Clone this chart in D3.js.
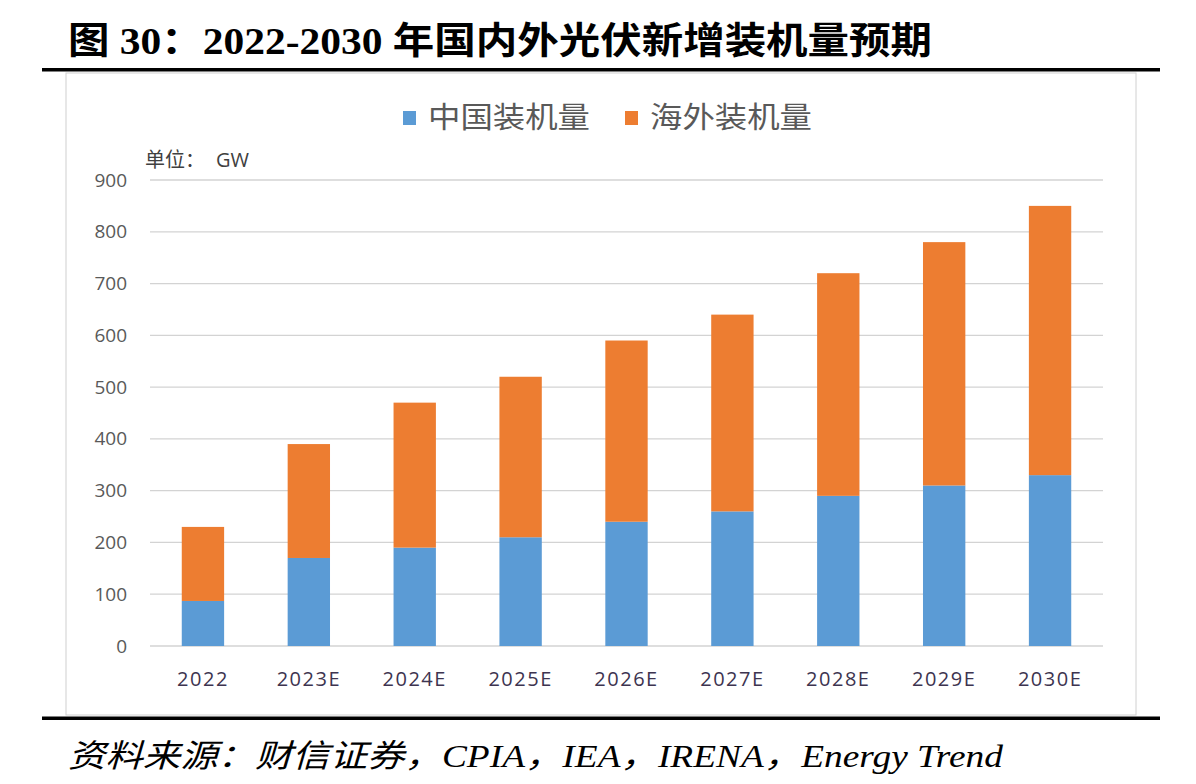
<!DOCTYPE html>
<html><head><meta charset="utf-8">
<script src="https://cdn.jsdelivr.net/npm/d3@7"></script>
<style>html,body{margin:0;padding:0;background:#fff;}svg{display:block;}</style>
</head><body>
<svg id="c" width="1196" height="784"></svg>
<script>
const categories = ["2022","2023E","2024E","2025E","2026E","2027E","2028E","2029E","2030E"];
const chinaValues = [87, 170, 190, 210, 240, 260, 290, 310, 330];
const overseasValues = [143, 220, 280, 310, 350, 380, 430, 470, 520];
const seriesNames = ["中国装机量", "海外装机量"];
const seriesColors = ["#5b9bd5", "#ed7d31"];
const yTicks = [0,100,200,300,400,500,600,700,800,900];
const titleText = "图 30：2022-2030 年国内外光伏新增装机量预期";
const unitLabel = "单位：";
const unitName = "GW";
const sourceText = "资料来源：财信证券，CPIA，IEA，IRENA，Energy Trend";

const svg = d3.select("#c");

// header / frame
svg.append("text").attr("x",68).attr("y",54)
  .attr("font-family","'Liberation Serif','Noto Sans CJK SC',serif")
  .attr("font-weight","bold").attr("font-size",37).attr("fill","#000")
  .attr("textLength",864).attr("lengthAdjust","spacingAndGlyphs")
  .text(titleText);
svg.append("rect").attr("x",42).attr("y",68).attr("width",1118).attr("height",3.5).attr("fill","#000");
svg.append("rect").attr("x",66).attr("y",73).attr("width",1070).attr("height",642)
  .attr("fill","#fff").attr("stroke","#d0d0d0").attr("stroke-width",1);
svg.append("rect").attr("x",42).attr("y",716.5).attr("width",1118).attr("height",3.5).attr("fill","#000");
svg.append("text").attr("x",68).attr("y",767)
  .attr("font-family","'Liberation Serif','Noto Sans CJK SC',serif")
  .attr("font-style","italic").attr("font-size",32).attr("fill","#000")
  .attr("textLength",935).attr("lengthAdjust","spacingAndGlyphs")
  .text(sourceText);

// scales
const x = d3.scaleBand().domain(categories).range([150,1103]).paddingInner(0.6).paddingOuter(0.3);
const y = d3.scaleLinear().domain([0,900]).range([646,180]);

// grid
const g = svg.append("g");
g.selectAll("line.grid").data(yTicks).join("line")
  .attr("x1",150).attr("x2",1103)
  .attr("y1",d=>y(d)).attr("y2",d=>y(d))
  .attr("stroke","#d3d3d3").attr("stroke-width",1.3);

// y axis labels
const yAxis = d3.axisLeft(y).tickValues(yTicks).tickSize(0).tickPadding(0);
const ya = svg.append("g").attr("transform","translate(127,0)").call(yAxis);
ya.select(".domain").remove();
ya.selectAll("text").attr("font-family","'Open Sans','Noto Sans CJK SC',sans-serif")
  .attr("font-size",19).attr("fill","#595959");

// x axis labels
const xAxis = d3.axisBottom(x).tickSize(0).tickPadding(0);
const xa = svg.append("g").attr("transform","translate(0,672)").call(xAxis);
xa.select(".domain").remove();
xa.selectAll("text").attr("font-family","'Open Sans','Noto Sans CJK SC',sans-serif")
  .attr("font-size",20).attr("letter-spacing",1.5).attr("fill","#3d3450");

// stacked bars
const rows = categories.map((c,i)=>({cat:c, china:chinaValues[i], overseas:overseasValues[i]}));
const stack = d3.stack().keys(["china","overseas"]);
const stacked = stack(rows);
svg.append("g").selectAll("g").data(stacked).join("g")
  .attr("fill",(d,i)=>seriesColors[i])
  .selectAll("rect").data(d=>d).join("rect")
  .attr("x",d=>x(d.data.cat)).attr("width",x.bandwidth())
  .attr("y",d=>y(d[1])).attr("height",d=>y(d[0])-y(d[1]));

// unit
svg.append("text").attr("x",145).attr("y",167)
  .attr("font-family","'Open Sans','Noto Sans CJK SC',sans-serif")
  .attr("font-size",20).attr("fill","#404040").text(unitLabel);
svg.append("text").attr("x",216).attr("y",167)
  .attr("font-family","'Open Sans','Noto Sans CJK SC',sans-serif")
  .attr("font-size",20).attr("fill","#404040").text(unitName);

// legend
const legX = [403, 625];
seriesNames.forEach((n,i)=>{
  svg.append("rect").attr("x",legX[i]).attr("y",111).attr("width",13).attr("height",14).attr("fill",seriesColors[i]);
  svg.append("text").attr("x",legX[i]+25).attr("y",128)
    .attr("font-family","'Noto Sans CJK SC',sans-serif")
    .attr("font-size",29).attr("fill","#595959")
    .attr("textLength",162).attr("lengthAdjust","spacingAndGlyphs").text(n);
});
</script>
</body></html>
